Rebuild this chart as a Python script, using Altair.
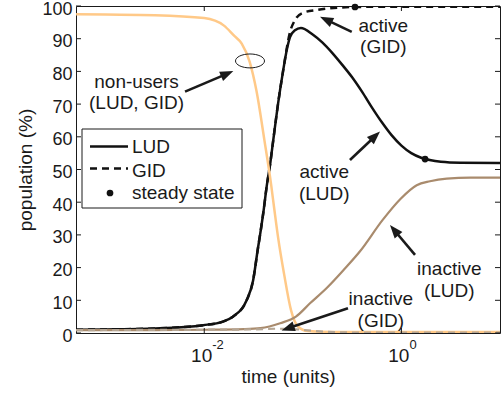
import math
import altair as alt
import pandas as pd

# ---------------- values (x given as log10(time)) ----------------
NONUSER_LOGT = [-3.30, -3.00, -2.50, -2.00, -1.80, -1.70, -1.62, -1.54, -1.47, -1.39,
                -1.32, -1.29, -1.25, -1.19, -1.12, -1.05, -0.95, -0.70, 0.00, 1.00]
NONUSER_PCT = [97.5, 97.4, 97.2, 96.3, 94.0, 91.0, 88.5, 83.0, 74.0, 59.0,
               45.0, 38.0, 29.0, 18.0, 7.0, 2.0, 0.6, 0.3, 0.3, 0.3]

ACTIVE_LUD_LOGT = [-3.30, -3.00, -2.50, -2.01, -1.81, -1.71, -1.57, -1.505, -1.455, -1.434,
                   -1.40, -1.366, -1.33, -1.30, -1.252, -1.201, -1.16, -1.13, -1.08, -1.02,
                   -0.90, -0.80, -0.70, -0.60, -0.50, -0.40, -0.30, -0.20, -0.10, 0.00,
                   0.10, 0.20, 0.30, 0.40, 0.60, 1.00]
ACTIVE_LUD_PCT = [1.0, 1.1, 1.4, 2.4, 3.5, 5.0, 10.0, 16.0, 26.0, 30.0,
                  37.0, 45.0, 52.0, 59.0, 70.0, 80.0, 87.0, 90.5, 92.6, 93.3,
                  91.3, 88.8, 85.6, 82.0, 78.2, 73.8, 69.0, 64.5, 60.5, 57.3,
                  55.0, 53.6, 52.8, 52.4, 52.1, 52.0]

ACTIVE_GID_LOGT = [-3.30, -3.00, -2.50, -2.01, -1.81, -1.71, -1.57, -1.505, -1.455, -1.434,
                   -1.40, -1.366, -1.33, -1.30, -1.252, -1.201, -1.13, -1.08, -1.00, -0.856,
                   -0.724, -0.471, 0.00, 1.00]
ACTIVE_GID_PCT = [1.0, 1.1, 1.4, 2.4, 3.5, 5.0, 10.0, 16.0, 26.0, 30.0,
                  37.0, 45.0, 52.0, 59.0, 70.0, 80.0, 92.0, 95.7, 97.9, 98.8,
                  99.3, 99.7, 99.8, 99.8]

INACTIVE_LUD_LOGT = [-3.30, -2.50, -2.00, -1.60, -1.43, -1.23, -1.07, -0.93, -0.75, -0.58,
                     -0.42, -0.19, -0.01, 0.155, 0.29, 0.46, 0.70, 1.00]
INACTIVE_LUD_PCT = [0.9, 0.9, 1.0, 1.2, 1.5, 3.0, 5.0, 9.0, 14.0, 19.5,
                    25.0, 34.6, 41.0, 45.2, 46.4, 47.2, 47.5, 47.5]

INACTIVE_GID_LOGT = [-3.30, -2.00, -1.50, -1.25, -1.10, -0.95, -0.80, -0.60, -0.30, 1.00]
INACTIVE_GID_PCT = [0.9, 1.0, 1.1, 1.3, 1.2, 0.8, 0.4, 0.2, 0.1, 0.1]

STEADY_LOGT = [0.24, -0.471]
STEADY_PCT = [53.2, 99.7]

LABEL_TEXT = ["non-users", "(LUD, GID)", "active", "(GID)", "active", "(LUD)",
              "inactive", "(LUD)", "inactive", "(GID)"]
LABEL_LOGT = [-2.687, -2.687, -0.184, -0.184, -0.783, -0.783, 0.485, 0.485, -0.209, -0.209]
LABEL_PCT = [75.0, 68.4, 92.2, 85.6, 47.3, 40.7, 17.7, 10.9, 8.7, 1.9]

ARROW_TAIL_LOGT = [-2.195, -0.504, -0.522, 0.138, -0.542]
ARROW_TAIL_PCT = [73.8, 92.1, 52.9, 23.9, 7.6]
ARROW_TIP_LOGT = [-1.705, -0.826, -0.217, -0.116, -1.216]
ARROW_TIP_PCT = [80.1, 96.7, 61.6, 33.0, 0.8]

ELLIPSE_LOGT = [-1.536]
ELLIPSE_PCT = [83.2]

Y_TICKS = [0, 10, 20, 30, 40, 50, 60, 70, 80, 90, 100]
X_TICKS = [0.01, 1.0]
X_TICK_BASE = ["10", "10"]
X_TICK_EXP = ["-2", "0"]
LEGEND_LABELS = ["LUD", "GID", "steady state"]

# ---------------- layout / style ----------------
W, H = 424, 327
T_MIN, T_MAX = 5e-4, 10.0
LOG_MIN, LOG_MAX = math.log10(T_MIN), math.log10(T_MAX)
FONT = "Liberation Sans"
INK = "#1a1a1a"
BLACK = "#111111"
ORANGE = "#FFC988"
BROWN = "#A98B6D"
GREYBROWN = "#B5A695"
FS = 19


def series(logt, vals):
    return pd.DataFrame({"t": [10 ** v for v in logt], "pct": vals})


xscale = alt.Scale(type="log", domain=[T_MIN, T_MAX], nice=False)
yscale = alt.Scale(domain=[0, 100], nice=False)
xaxis = alt.Axis(title="time (units)", labels=False, ticks=False, domain=False, grid=False,
                 titleFont=FONT, titleFontSize=FS, titleFontWeight="normal", titleColor=INK,
                 titleY=49, titleBaseline="alphabetic")
yaxis = alt.Axis(title="population (%)", values=Y_TICKS, ticks=False, domain=False, grid=False,
                 labelFont=FONT, labelFontSize=18, labelColor=INK, labelPadding=4, labelOffset=3,
                 titleFont=FONT, titleFontSize=FS, titleFontWeight="normal", titleColor=INK,
                 titleAngle=270, titleX=-45, titleY=H / 2, titleAlign="center",
                 titleBaseline="alphabetic")
X = alt.X("t:Q", scale=xscale, axis=xaxis)
Y = alt.Y("pct:Q", scale=yscale, axis=yaxis)


def line(df, color, width, dash=None):
    kw = dict(color=color, strokeWidth=width, interpolate="monotone", clip=True)
    if dash:
        kw["strokeDash"] = dash
    return alt.Chart(df).mark_line(**kw).encode(x=X, y=Y)


layers = []
layers.append(line(series(ACTIVE_GID_LOGT, ACTIVE_GID_PCT), BLACK, 2.5, [7, 5]))
layers.append(line(series(ACTIVE_LUD_LOGT, ACTIVE_LUD_PCT), BLACK, 2.5))
layers.append(line(series(NONUSER_LOGT, NONUSER_PCT), ORANGE, 2.5))
layers.append(line(series(INACTIVE_LUD_LOGT, INACTIVE_LUD_PCT), BROWN, 2.2))
layers.append(line(series(INACTIVE_GID_LOGT, INACTIVE_GID_PCT), GREYBROWN, 2.2, [7, 5]))

layers.append(alt.Chart(series(STEADY_LOGT, STEADY_PCT)).mark_circle(
    size=45, color=BLACK, opacity=1).encode(x=X, y=Y))

# inner ticks on all four sides
yt = pd.DataFrame({"pct": Y_TICKS})
layers.append(alt.Chart(yt).mark_rule(color=INK, strokeWidth=1).encode(
    y=Y, x=alt.value(0), x2=alt.value(5)))
layers.append(alt.Chart(yt).mark_rule(color=INK, strokeWidth=1).encode(
    y=Y, x=alt.value(W), x2=alt.value(W - 5)))
xt = pd.DataFrame({"t": X_TICKS, "base": X_TICK_BASE, "exp": X_TICK_EXP})
layers.append(alt.Chart(xt).mark_rule(color=INK, strokeWidth=1).encode(
    x=X, y=alt.value(H), y2=alt.value(H - 5)))
layers.append(alt.Chart(xt).mark_rule(color=INK, strokeWidth=1).encode(
    x=X, y=alt.value(0), y2=alt.value(5)))
layers.append(alt.Chart(xt).mark_text(font=FONT, fontSize=FS, color=INK, align="right",
                                      baseline="alphabetic", dx=8).encode(
    x=X, y=alt.value(356), text="base:N"))
layers.append(alt.Chart(xt).mark_text(font=FONT, fontSize=13, color=INK, align="left",
                                      baseline="alphabetic", dx=8).encode(
    x=X, y=alt.value(343), text="exp:N"))

# annotation texts
lab = pd.DataFrame({"t": [10 ** v for v in LABEL_LOGT], "pct": LABEL_PCT, "txt": LABEL_TEXT})
layers.append(alt.Chart(lab).mark_text(font=FONT, fontSize=FS, color=INK, align="center",
                                       baseline="alphabetic").encode(x=X, y=Y, text="txt:N"))

# arrows
def to_px(lt, v):
    return (lt - LOG_MIN) / (LOG_MAX - LOG_MIN) * W, (1 - v / 100.0) * H


def from_px(px, py):
    return LOG_MIN + px / W * (LOG_MAX - LOG_MIN), (1 - py / H) * 100.0


rows = []
for lt0, v0, lt1, v1 in zip(ARROW_TAIL_LOGT, ARROW_TAIL_PCT, ARROW_TIP_LOGT, ARROW_TIP_PCT):
    x0, y0 = to_px(lt0, v0)
    x1, y1 = to_px(lt1, v1)
    dx, dy = x1 - x0, y1 - y0
    L = math.hypot(dx, dy)
    ux, uy = dx / L, dy / L
    ex, ey = from_px(x1 - ux * 9, y1 - uy * 9)
    ang = math.degrees(math.atan2(ux, -uy)) % 360
    rows.append({"t": 10 ** lt0, "pct": v0, "t2": 10 ** ex, "pct2": ey,
                 "tt": 10 ** lt1, "tp": v1, "ang": ang})
arr = pd.DataFrame(rows)
layers.append(alt.Chart(arr).mark_rule(color=INK, strokeWidth=2.6).encode(
    x=X, y=Y, x2="t2:Q", y2="pct2:Q"))
HEAD = "M 0 0 L 0.72 1.9 L -0.72 1.9 Z"
layers.append(alt.Chart(arr).mark_point(shape=HEAD, size=196, filled=True, color=INK,
                                        opacity=1, strokeWidth=0).encode(
    x=alt.X("tt:Q", scale=xscale, axis=xaxis), y=alt.Y("tp:Q", scale=yscale, axis=yaxis),
    angle=alt.Angle("ang:Q", scale=None)))

ELL = "M -1 0 A 1 0.48 0 1 1 1 0 A 1 0.48 0 1 1 -1 0 Z"
layers.append(alt.Chart(series(ELLIPSE_LOGT, ELLIPSE_PCT)).mark_point(
    shape=ELL, size=841, filled=False, color=INK, strokeWidth=1, opacity=1).encode(x=X, y=Y))

# legend box
one = pd.DataFrame({"k": [0]})
layers.append(alt.Chart(one).mark_rect(fill="white", stroke=INK, strokeWidth=1).encode(
    x=alt.value(6), x2=alt.value(166), y=alt.value(123), y2=alt.value(202)))
layers.append(alt.Chart(one).mark_rule(color=BLACK, strokeWidth=2.5).encode(
    x=alt.value(14), x2=alt.value(52), y=alt.value(140.5)))
layers.append(alt.Chart(one).mark_rule(color=BLACK, strokeWidth=2.5, strokeDash=[7, 5]).encode(
    x=alt.value(14), x2=alt.value(52), y=alt.value(162.5)))
layers.append(alt.Chart(one).mark_circle(size=45, color=BLACK, opacity=1).encode(
    x=alt.value(34), y=alt.value(187)))
for lbl, yb in zip(LEGEND_LABELS, [147.3, 170.7, 193]):
    layers.append(alt.Chart(one).mark_text(font=FONT, fontSize=FS, color=INK, align="left",
                                           baseline="alphabetic").encode(
        x=alt.value(56), y=alt.value(yb), text=alt.value(lbl)))

chart = alt.layer(*layers).properties(
    width=W, height=H,
    autosize=alt.AutoSizeParams(type="none"),
    padding={"left": 76, "top": 6, "right": 3, "bottom": 61},
).configure_view(stroke=INK, strokeWidth=1)

chart.save("out.html", embed_options={"renderer": "svg", "actions": False})
